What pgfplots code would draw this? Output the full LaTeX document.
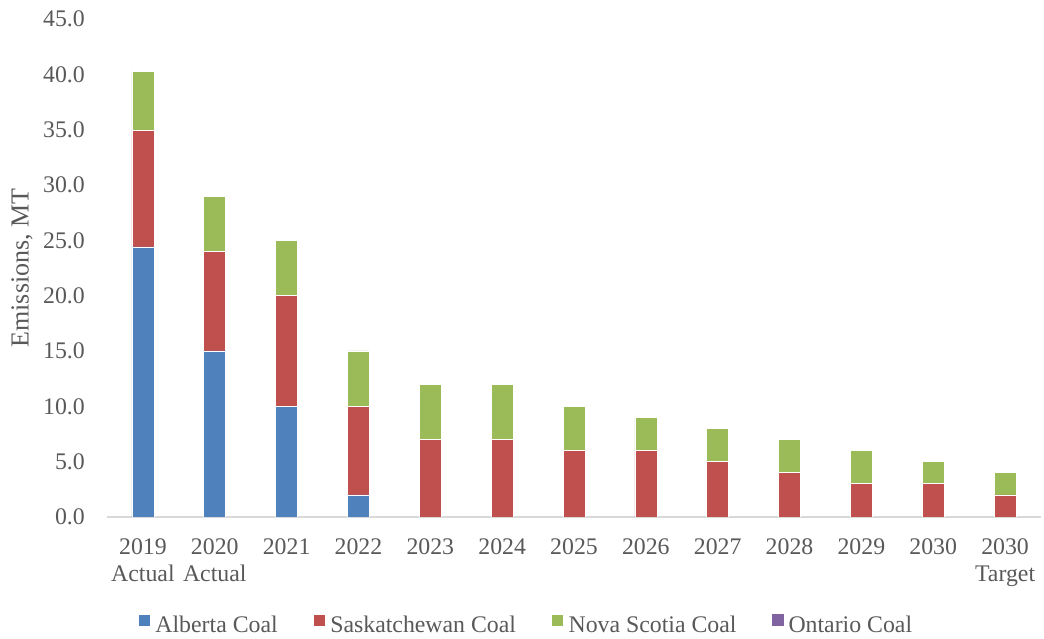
\documentclass[border=0pt]{standalone}
\usepackage{fontspec}
\setmainfont{Liberation Serif}
\usepackage{pgfplots}
\pgfplotsset{compat=1.18}

\definecolor{albertaC}{RGB}{79,129,189}
\definecolor{saskC}{RGB}{192,80,77}
\definecolor{nsC}{RGB}{155,187,89}
\definecolor{ontC}{RGB}{128,100,162}
\definecolor{txtC}{RGB}{89,89,89}
\definecolor{axC}{RGB}{217,217,217}

\begin{document}
\begin{tikzpicture}
% fixed page frame around the plot area
\path[use as bounding box] (-107pt,-122pt) rectangle (937pt,517pt);
\begin{axis}[
  at={(0pt,0pt)}, anchor=south west,
  scale only axis,
  width=934pt, height=498pt,
  ybar stacked,
  bar width=22pt,
  xmin=-0.5, xmax=12.5,
  ymin=0, ymax=45,
  xtick={0,...,12},
  xticklabels={{2019\\Actual},{2020\\Actual},2021,2022,2023,2024,2025,2026,2027,2028,2029,2030,{2030\\Target}},
  ytick={0,5,...,45},
  axis x line*=bottom,
  axis y line*=left,
  y axis line style={draw=none},
  x axis line style={draw=axC, line width=1.2pt},
  major tick length=0pt,
  tick style={draw=none},
  font=\fontsize{23.8}{27.5}\selectfont,
  tick label style={text=txtC},
  /pgf/number format/assume math mode=true,
  yticklabel={\pgfmathprintnumber[fixed,fixed zerofill,precision=1]{\tick}},
  every y tick label/.append style={inner sep=0pt, xshift=-22pt},
  every x tick label/.append style={align=center, inner sep=0pt, yshift=-21pt},
  ylabel={Emissions, MT},
  every axis y label/.style={at={(axis description cs:0,0.5)}, rotate=90, anchor=center, yshift=85pt, text=txtC, font=\fontsize{26}{30}\selectfont},
  legend columns=-1,
  legend style={at={(axis description cs:0.4486,-0.2169)}, anchor=center, draw=none, fill=none,
    font=\fontsize{23.8}{27}\selectfont, text=txtC,
    /tikz/every odd column/.append style={column sep=3pt},
    /tikz/every even column/.append style={column sep=33pt}},
  legend image code/.code={\fill[#1] (0pt,-1pt) rectangle (12pt,11pt);},
  legend cell align=left,
]
\addplot[fill=albertaC, draw=white, line width=0.6pt] coordinates {
  (0,24.4) (1,15) (2,10) (3,2) (4,0) (5,0) (6,0) (7,0) (8,0) (9,0) (10,0) (11,0) (12,0)};
\addplot[fill=saskC, draw=white, line width=0.6pt] coordinates {
  (0,10.5) (1,9) (2,10) (3,8) (4,7) (5,7) (6,6) (7,6) (8,5) (9,4) (10,3) (11,3) (12,2)};
\addplot[fill=nsC, draw=white, line width=0.6pt] coordinates {
  (0,5.4) (1,5) (2,5) (3,5) (4,5) (5,5) (6,4) (7,3) (8,3) (9,3) (10,3) (11,2) (12,2)};
\addplot[fill=ontC, draw=none] coordinates {
  (0,0) (1,0) (2,0) (3,0) (4,0) (5,0) (6,0) (7,0) (8,0) (9,0) (10,0) (11,0) (12,0)};
\legend{Alberta Coal,Saskatchewan Coal,Nova Scotia Coal,Ontario Coal}
\end{axis}
\end{tikzpicture}
\end{document}
